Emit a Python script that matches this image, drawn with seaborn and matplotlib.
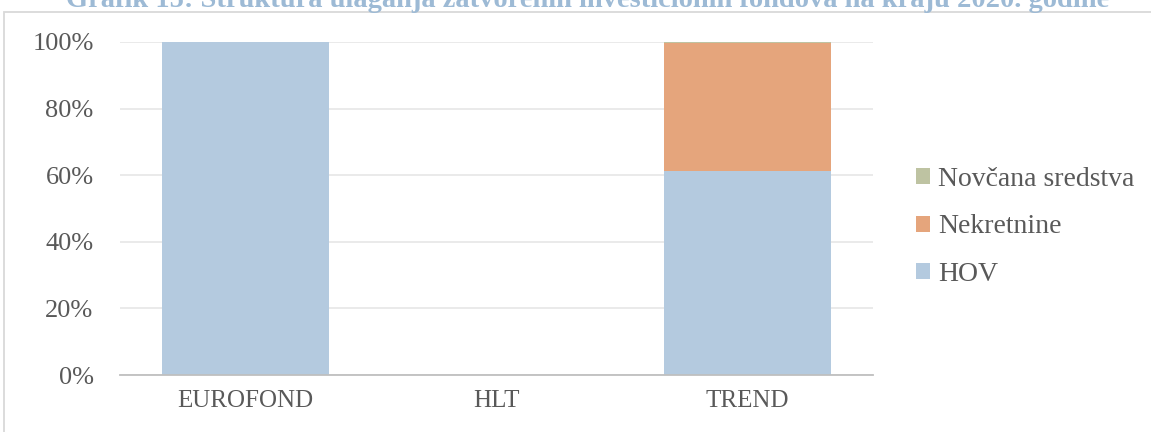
import matplotlib
matplotlib.use("Agg")
import matplotlib.pyplot as plt
import matplotlib.patches as mpatches
import numpy as np
import pandas as pd
import seaborn as sns

# Fund names and share of each asset type (in %)
funds = ['EUROFOND', 'HLT', 'TREND']
hov = [100.0, 0.0, 61.2]
nekretnine = [0.0, 0.0, 38.5]
novcana = [0.0, 0.0, 0.3]

series_names = ['HOV', 'Nekretnine', 'Novčana sredstva']
series_colors = ['#B4CADF', '#E5A57C', '#BEC3A2']
title = 'Grafik 15: Struktura ulaganja zatvorenih investicionih fondova na kraju 2020. godine'

sns.set_style('white')
plt.rcParams['font.family'] = ['Liberation Serif', 'DejaVu Serif']

W, H = 1151, 432
fig = plt.figure(figsize=(W / 100, H / 100), dpi=100)
ax = fig.add_axes([120 / W, 1 - 375 / H, 753 / W, 333 / H])

df = pd.DataFrame({'fond': funds, 'HOV': hov, 'Nekretnine': nekretnine,
                   'Novčana sredstva': novcana})

bottom = np.zeros(len(funds))
for name, color in zip(series_names, series_colors):
    sns.barplot(data=df, x='fond', y=name, color=color, width=0.665,
                saturation=1, linewidth=0, bottom=bottom, ax=ax,
                label=name, zorder=3)
    bottom = bottom + df[name].values

ax.set_xlim(-0.5, 2.5)
ax.set_ylim(0, 100)
ax.set_yticks(np.arange(0, 101, 20))
ax.set_yticklabels([f'{v}%' for v in range(0, 101, 20)])
ax.set_xlabel('')
ax.set_ylabel('')
ax.grid(axis='y', color='#E8E8E8', linewidth=1.3, zorder=0)
for s in ['top', 'right', 'left']:
    ax.spines[s].set_visible(False)
ax.spines['bottom'].set_color('#BFBFBF')
ax.spines['bottom'].set_linewidth(1.3)
ax.spines['bottom'].set_zorder(4)
ax.tick_params(axis='both', length=0, colors='#595959')
ax.tick_params(axis='y', pad=19, labelsize=19)
ax.tick_params(axis='x', pad=11, labelsize=18)

handles, labels = ax.get_legend_handles_labels()
leg = ax.legend(handles[::-1], labels[::-1], loc='center left',
                bbox_to_anchor=(905 / W, 1 - 227 / H),
                bbox_transform=fig.transFigure, frameon=False,
                fontsize=20, handlelength=0.5, handleheight=0.5,
                handletextpad=0.3, labelspacing=0.82, borderaxespad=0)
for t in leg.get_texts():
    t.set_color('#595959')

# chart border
fig.add_artist(mpatches.Rectangle((4 / W, -0.1), 1.2, 1 - 12 / H + 0.1,
                                  transform=fig.transFigure, fill=False,
                                  edgecolor='#D9D9D9', linewidth=1.3))

# title, cut off at the top edge like the source image
fig.text(588 / W, 1 - 7 / H, title, ha='center', va='baseline',
         fontsize=20.5, fontweight='bold', color='#9DBAD5')

fig.savefig('out.png', dpi=100)
